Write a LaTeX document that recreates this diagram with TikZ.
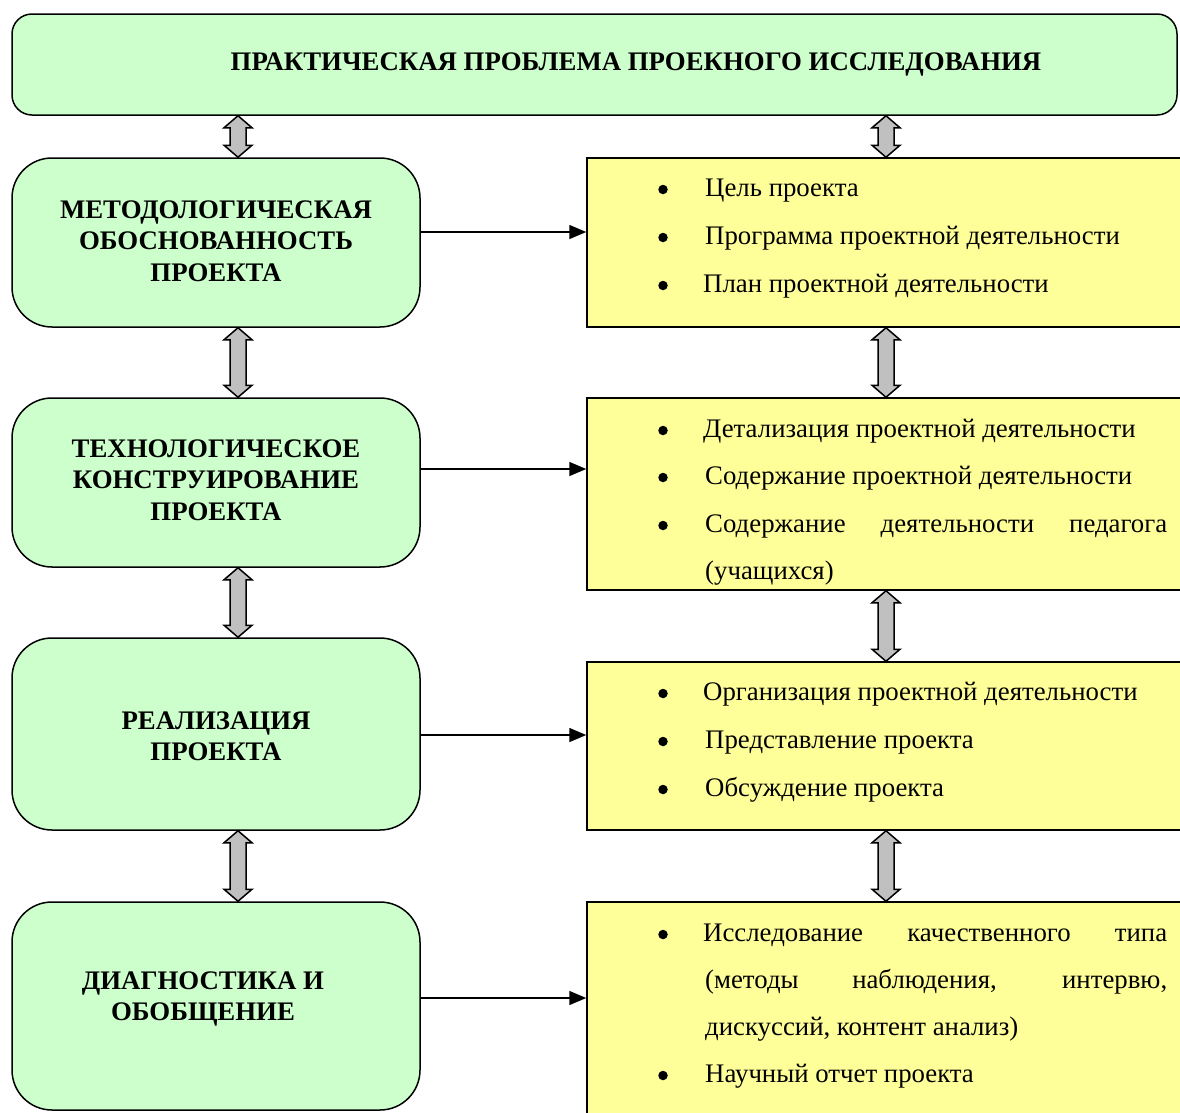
\documentclass[tikz,border=0pt]{standalone}
\usepackage{fontspec}
\setmainfont{Liberation Serif}
\usetikzlibrary{calc,arrows.meta}
\definecolor{lgreen}{HTML}{CCFFCC}
\definecolor{lyellow}{HTML}{FFFF99}
\definecolor{agray}{HTML}{C0C0C0}
\newcommand\dblarr[2]{%
  \draw[dblarrow] (#1) -- ($(#1)+(14,12)$) -- ($(#1)+(8,12)$) -- ($(#2)+(8,-12)$) -- ($(#2)+(14,-12)$) -- (#2)
    -- ($(#2)+(-14,-12)$) -- ($(#2)+(-8,-12)$) -- ($(#1)+(-8,12)$) -- ($(#1)+(-14,12)$) -- cycle;}
\begin{document}
\begin{tikzpicture}[x=1pt,y=-1pt,
  gbox/.style={draw=black, line width=1.5pt, fill=lgreen, rounded corners=40pt, inner sep=0pt},
  ybox/.style={draw=black, line width=1.5pt, fill=lyellow, inner sep=0pt},
  ltext/.style={inner sep=0pt, align=center, font=\fontsize{26.8}{31.5}\selectfont\bfseries},
  rtext/.style={inner sep=0pt, anchor=base west, font=\fontsize{26.8}{30}\selectfont},
  bul/.style={circle, fill=black, inner sep=0pt, minimum size=9.5pt, yshift=6.5pt},
  harrow/.style={line width=1.5pt, -{Triangle[length=17pt,width=14pt]}},
  dblarrow/.style={draw=black, line width=1.5pt, fill=agray, line join=miter}]
\clip (0,0) rectangle (1180,1112);
\fill[white] (0,0) rectangle (1180,1112);
% boxes
\node[gbox, rounded corners=20pt, minimum width=1165pt, minimum height=101pt] (T) at (594.5,64.5) {};
\node[inner sep=0pt, anchor=base, font=\fontsize{26.8}{30}\selectfont\bfseries] (tt) at (636,70) {ПРАКТИЧЕСКАЯ ПРОБЛЕМА ПРОЕКНОГО ИССЛЕДОВАНИЯ};
\node[gbox, minimum width=408pt, minimum height=169pt] (L1) at (216,242.5) {};
\node[gbox, minimum width=408pt, minimum height=169pt] (L2) at (216,482.5) {};
\node[gbox, minimum width=408pt, minimum height=192pt] (L3) at (216,734) {};
\node[gbox, minimum width=408pt, minimum height=208pt] (L4) at (216,1006) {};
\node[ybox, minimum width=613pt, minimum height=169pt] (R1) at (893.5,242.5) {};
\node[ybox, minimum width=613pt, minimum height=192pt] (R2) at (893.5,494) {};
\node[ybox, minimum width=613pt, minimum height=168pt] (R3) at (893.5,746) {};
\node[ybox, minimum width=613pt, minimum height=228pt] (R4) at (893.5,1016) {};
% left texts
\node[ltext] (lt1) at (216,241) {МЕТОДОЛОГИЧЕСКАЯ\\ОБОСНОВАННОСТЬ\\ПРОЕКТА};
\node[ltext] (lt2) at (216,480) {ТЕХНОЛОГИЧЕСКОЕ\\КОНСТРУИРОВАНИЕ\\ПРОЕКТА};
\node[ltext] (lt3) at (216,736) {РЕАЛИЗАЦИЯ\\ПРОЕКТА};
\node[ltext] (lt4) at (203,999) {ДИАГНОСТИКА И\\ОБОБЩЕНИЕ};
% right texts
\node[bul] (b11) at (663,196) {};
\node[rtext] (r11) at (705,196) {Цель проекта};
\node[bul] (b12) at (663,244) {};
\node[rtext] (r12) at (705,244) {Программа проектной деятельности};
\node[bul] (b13) at (663,292) {};
\node[rtext] (r13) at (703,292) {План проектной деятельности};
\node[bul] (b21) at (663,437) {};
\node[rtext] (r21) at (703,437) {Детализация проектной деятельности};
\node[bul] (b22) at (663,484) {};
\node[rtext] (r22) at (705,484) {Содержание проектной деятельности};
\node[bul] (b23) at (663,532) {};
\node[rtext] (r23) at (705,532) {\makebox[462pt][s]{Содержание деятельности педагога}};
\node[rtext] (r24) at (705,579) {(учащихся)};
\node[bul] (b31) at (663,700) {};
\node[rtext] (r31) at (703,700) {Организация проектной деятельности};
\node[bul] (b32) at (663,748) {};
\node[rtext] (r32) at (705,748) {Представление проекта};
\node[bul] (b33) at (663,796) {};
\node[rtext] (r33) at (705,796) {Обсуждение проекта};
\node[bul] (b41) at (663,941) {};
\node[rtext] (r41) at (703,941) {\makebox[464pt][s]{Исследование качественного типа}};
\node[rtext] (r42) at (705,988) {\makebox[462pt][s]{(методы наблюдения, интервю,}};
\node[rtext] (r43) at (705,1035) {дискуссий, контент анализ)};
\node[bul] (b44) at (663,1082) {};
\node[rtext] (r44) at (705,1082) {Научный отчет проекта};
% horizontal arrows
\coordinate (h1) at (0,232);
\coordinate (h2) at (0,469);
\coordinate (h3) at (0,735);
\coordinate (h4) at (0,998);
\draw[harrow] (L1.east |- h1) -- (R1.west |- h1);
\draw[harrow] (L2.east |- h2) -- (R2.west |- h2);
\draw[harrow] (L3.east |- h3) -- (R3.west |- h3);
\draw[harrow] (L4.east |- h4) -- (R4.west |- h4);
% double arrows
\coordinate (xl) at (238,0);
\coordinate (xr) at (886,0);
\path (T.south -| xl) coordinate (a1t) (L1.north -| xl) coordinate (a1b)
      (L1.south -| xl) coordinate (a2t) (L2.north -| xl) coordinate (a2b)
      (L2.south -| xl) coordinate (a3t) (L3.north -| xl) coordinate (a3b)
      (L3.south -| xl) coordinate (a4t) (L4.north -| xl) coordinate (a4b)
      (T.south -| xr) coordinate (c1t) (R1.north -| xr) coordinate (c1b)
      (R1.south -| xr) coordinate (c2t) (R2.north -| xr) coordinate (c2b)
      (R2.south -| xr) coordinate (c3t) (R3.north -| xr) coordinate (c3b)
      (R3.south -| xr) coordinate (c4t) (R4.north -| xr) coordinate (c4b);
\dblarr{a1t}{a1b}
\dblarr{a2t}{a2b}
\dblarr{a3t}{a3b}
\dblarr{a4t}{a4b}
\dblarr{c1t}{c1b}
\dblarr{c2t}{c2b}
\dblarr{c3t}{c3b}
\dblarr{c4t}{c4b}
\end{tikzpicture}
\end{document}
